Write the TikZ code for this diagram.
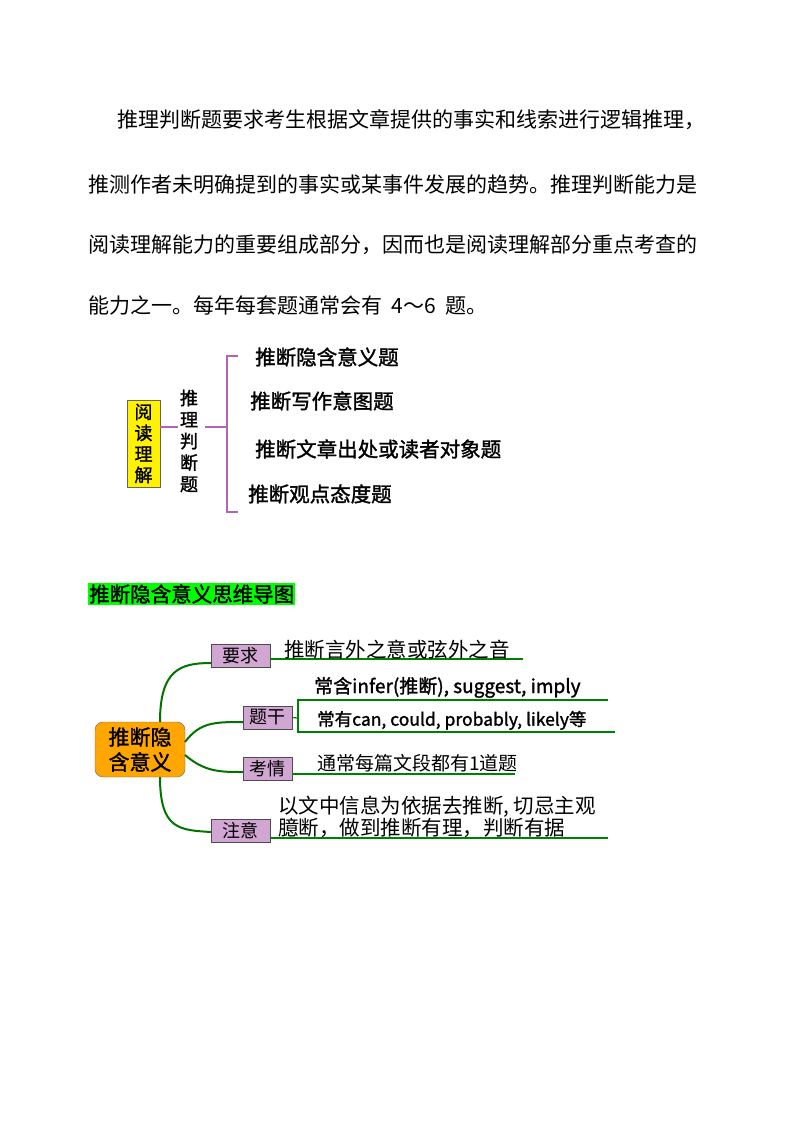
\documentclass[tikz,border=0pt]{standalone}
\usepackage{fontspec}
\setmainfont{Noto Sans CJK SC}
\newfontfamily\cjkb[FakeBold=1.5]{Noto Sans CJK SC}
\begin{document}
\begin{tikzpicture}[x=1pt,y=-1pt,
  para/.style={anchor=west,inner sep=0,font=\fontsize{21}{21}\selectfont},
  item/.style={anchor=west,inner sep=0,font=\cjkb\fontsize{20.5}{20.5}\selectfont},
  mbox/.style={draw=black!70,fill=violet!35,minimum width=59pt,minimum height=23pt,inner sep=0,font=\fontsize{18}{18}\selectfont},
  mtxt/.style={anchor=south west,inner sep=1pt,font=\cjkb\fontsize{17}{17}\selectfont},
  gl/.style={draw=green!50!black,line width=1.2pt},
  gc/.style={draw=green!45!black,line width=2pt},
  pl/.style={draw=violet!60,line width=1.5pt}]
\useasboundingbox (0,0) rectangle (800,1132);
\node[para] (p1) at (117,120) {推理判断题要求考生根据文章提供的事实和线索进行逻辑推理，};
\node[para] (p2) at (88,185) {推测作者未明确提到的事实或某事件发展的趋势。推理判断能力是};
\node[para] (p3) at (88,245) {阅读理解能力的重要组成部分，因而也是阅读理解部分重点考查的};
\node[para] (p4) at (88,305) {能力之一。每年每套题通常会有 \ 4～6 \ 题。};
% top diagram
\node[draw=black!60,fill=yellow,minimum width=33pt,minimum height=87pt,inner sep=0,align=center,font=\cjkb\fontsize{18}{21}\selectfont] (yd) at (143.5,443.5) {阅\\读\\理\\解};
\node[align=center,inner sep=0,font=\cjkb\fontsize{18}{21.5}\selectfont] (tl) at (189,441) {推\\理\\判\\断\\题};
\coordinate (b1) at (227,427);
\draw[pl] (yd.east|-b1) -- (178,427);
\draw[pl] (205,427) -- (b1);
\draw[pl] (238,356) -- (227,356) -- (227,512) -- (238,512);
\node[item] (i1) at (255,357) {推断隐含意义题};
\node[item] (i2) at (250,401) {推断写作意图题};
\node[item] (i3) at (255,449) {推断文章出处或读者对象题};
\node[item] (i4) at (248,494) {推断观点态度题};
% heading
\node[fill=green,anchor=west,inner sep=1pt,minimum height=22pt,font=\cjkb\fontsize{20.5}{20.5}\selectfont] (h) at (88,594) {推断隐含意义思维导图};
% mind map
\node[draw=black!60,fill=orange!70!yellow,rounded corners=8pt,minimum width=90pt,minimum height=55pt,align=center,inner sep=0,font=\cjkb\fontsize{21}{25}\selectfont] (c) at (140,749.5) {推断隐\\含意义};
\node[mbox] (a) at (240.5,655.5) {要求};
\node[mbox,minimum width=49pt] (b) at (267.5,717.5) {题干};
\node[mbox,minimum width=49pt] (k) at (267.5,768.5) {考情};
\node[mbox] (d) at (240.5,830.5) {注意};
\draw[gc] (160,722) .. controls (160,670) and (180,663) .. (a.west|-0,663);
\draw[gc] (185,742) .. controls (200,722) and (215,722) .. (b.west|-0,722);
\draw[gc] (185,755) .. controls (205,772) and (220,772) .. (k.west|-0,772);
\draw[gc] (160,777) .. controls (160,830) and (180,830) .. (d.west|-0,832);
\coordinate (ae) at (523,659);
\draw[gl] (a.east|-ae) -- (ae);
\node[mtxt,font=\fontsize{20.5}{20.5}\selectfont] (at) at (283,660) {推断言外之意或弦外之音};
\coordinate (bt) at (298,700);
\draw[gl] (b.east) -- (298,718);
\draw[gl] (608,700) -- (bt) -- (298,732) -- (615,732);
\node[mtxt,font=\cjkb\fontsize{19}{19}\selectfont] (b1t) at (313,699) {常含infer(推断), suggest, imply};
\node[mtxt,font=\cjkb\fontsize{17.5}{17.5}\selectfont] (b2t) at (316,731) {常有can, could, probably, likely等};
\coordinate (ke) at (515,774);
\draw[gl] (k.east|-ke) -- (ke);
\node[mtxt,font=\fontsize{19}{19}\selectfont] (kt) at (316,773) {通常每篇文段都有1道题};
\coordinate (de) at (608,838);
\draw[gl] (d.east|-de) -- (de);
\node[mtxt,align=left,font=\fontsize{20.5}{22}\selectfont] (dt) at (277,839) {以文中信息为依据去推断, 切忌主观\\臆断，做到推断有理，判断有据};
\end{tikzpicture}
\end{document}
